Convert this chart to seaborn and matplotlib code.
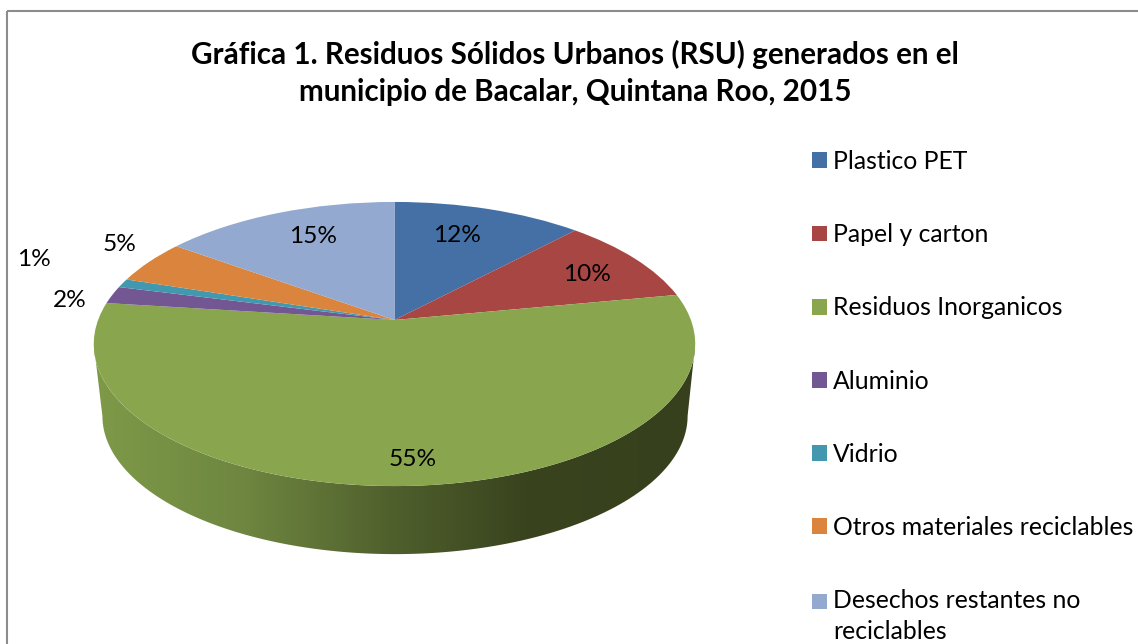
import numpy as np
import matplotlib
matplotlib.use("Agg")
import matplotlib.pyplot as plt
import seaborn as sns
from matplotlib.transforms import Transform
from matplotlib.path import Path
from matplotlib.patches import PathPatch, Rectangle
from matplotlib.colors import LinearSegmentedColormap

categories = ["Plastico PET", "Papel y carton", "Residuos Inorganicos", "Aluminio",
              "Vidrio", "Otros materiales reciclables", "Desechos restantes no\nreciclables"]
values = [12, 10, 55, 2, 1, 5, 15]
colors = ["#4470A6", "#A84644", "#89A54E", "#725792", "#4198AF", "#DB843D", "#93A9CF"]
title = "Gráfica 1. Residuos Sólidos Urbanos (RSU) generados en el\nmunicipio de Bacalar, Quintana Roo, 2015"

# layout, in figure pixels
W, H = 1138, 644
label_xy = [(457, 235), (587, 274), (413, 459), (70, 300), (34, 259), (120, 244), (313, 236)]

sns.set_theme(style="white")
plt.rcParams["font.family"] = ["Lato", "DejaVu Sans"]

TILT = 0.169


class Perspective(Transform):
    """Maps a unit disk onto a tilted disk, in pixel coordinates."""
    input_dims = output_dims = 2
    is_affine = False

    def __init__(self, cx, cy, k, a, c):
        super().__init__()
        self.p = (cx, cy, k, a, c)

    def transform_non_affine(self, v):
        cx, cy, k, a, c = self.p
        v = np.asarray(v, float)
        d = 1 + c * v[:, 1]
        return np.column_stack([cx + k * v[:, 0] / d, cy - a * v[:, 1] / d])


top_rim = Perspective(394.5, 320, 296.4, 138, TILT)
low_rim = Perspective(395, 392.5, 288.4, 134.3, TILT)

fig = plt.figure(figsize=(W / 100, H / 100), dpi=100, facecolor="white")
ax = fig.add_axes([0, 0, 1, 1])

wedges, _, autotexts = ax.pie(values, colors=colors, startangle=90, counterclock=False,
                              radius=1, autopct=lambda p: f"{p:.0f}%",
                              wedgeprops=dict(linewidth=0, antialiased=True),
                              textprops=dict(fontsize=17.6, color="black"))
for w in wedges:
    w.set_transform(top_rim + ax.transData)
    w.set_zorder(3)
for t, xy in zip(autotexts, label_xy):
    t.set_position(xy)
    t.set_zorder(4)

ax.set_aspect("auto")
ax.axis("off")

# side wall of the disk: the front is all the large green slice
tangent = np.degrees(np.arcsin(TILT))
th = np.radians(np.linspace(180 + tangent, 360 - tangent, 200))
unit = np.column_stack([np.cos(th), np.sin(th)])
upper = top_rim.transform(unit)
lower = low_rim.transform(unit)
wall = Path(np.vstack([upper, lower[::-1], upper[:1]]), closed=True)
wall_patch = PathPatch(wall, facecolor="none", edgecolor="none", transform=ax.transData)
ax.add_patch(wall_patch)
cmap = LinearSegmentedColormap.from_list("wall", [(0, "#7E9A48"), (0.25, "#6E8640"),
                                                  (0.5, "#4F5F2C"), (0.72, "#39431E"),
                                                  (1, "#37401C")])
img = ax.imshow(np.linspace(0, 1, 256)[None, :], cmap=cmap, extent=(94, 695, 560, 340),
                aspect="auto", zorder=2)
img.set_clip_path(wall_patch)
ax.set_xlim(0, W)
ax.set_ylim(H, 0)

# frame: only its top and left edges are inside the picture
ax.add_patch(Rectangle((7, 11), 1300, 800, facecolor="none", edgecolor="#8C8C8C",
                       linewidth=1.5, zorder=1))

ax.text(575, 73, title, ha="center", va="center", fontsize=21.3, fontweight="bold",
        color="black", linespacing=1.42, zorder=5)

leg = ax.legend(wedges, categories, loc="upper left", bbox_to_anchor=(812 / W, 1 - 150 / H),
                frameon=False, fontsize=17.8, handlelength=0.6, handleheight=0.6,
                handletextpad=0.26, labelspacing=2.03, borderpad=0, borderaxespad=0,
                labelcolor="black")
leg.get_texts()[-1].set_linespacing(1.42)
last = leg.legend_handles[-1]
last.set_y(last.get_y() + 11.0)

fig.savefig("out.png", dpi=100, facecolor="white")
